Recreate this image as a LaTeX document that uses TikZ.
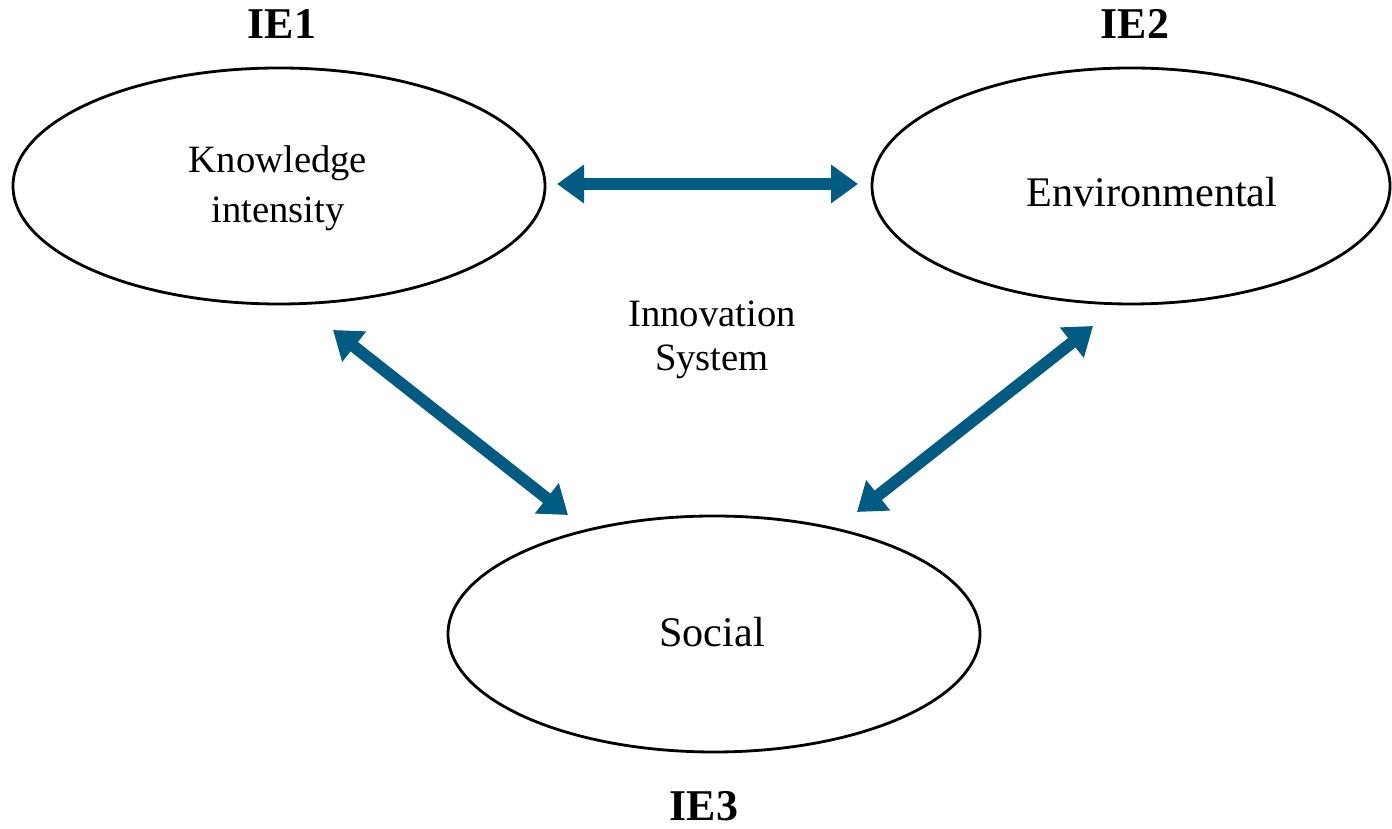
\documentclass[tikz,border=0pt]{standalone}
\usepackage{fontspec}
\setmainfont{Liberation Serif}
\usetikzlibrary{shapes.geometric,arrows.meta}
\definecolor{linkblue}{RGB}{0,91,130}
\tikzset{
  sphere/.style={draw, ellipse, line width=0.8pt, inner sep=0pt, minimum width=5.32cm, minimum height=2.36cm},
  link/.style={linkblue, line width=3.4pt, {Triangle[width=0.37cm,length=0.27cm]}-{Triangle[width=0.37cm,length=0.27cm]}},
  ielabel/.style={font=\fontsize{12.5}{14}\selectfont\bfseries},
  txt/.style={align=center, font=\fontsize{12}{14.2}\selectfont}
}
\begin{document}
\begin{tikzpicture}
\useasboundingbox (0,0) rectangle (13.92,8.29);
\node[sphere] (know) at (2.79, 6.43) {};
\node[sphere, minimum width=5.18cm] (env) at (11.31, 6.43) {};
\node[sphere] (soc) at (7.14, 1.95) {};

\node[txt, font=\fontsize{11}{14.2}\selectfont] (knowtxt) at (2.78, 6.41) {Knowledge\\intensity};
\node[txt] (envtxt) at (11.52, 6.37) {Environmental};
\node[txt] (soctxt) at (7.12, 1.97) {Social};
\node[txt, font=\fontsize{11}{12.5}\selectfont] (inno) at (7.12, 4.89) {Innovation\\System};

\node[ielabel] (ie1) at (2.82, 8.05) {IE1};
\node[ielabel] (ie2) at (11.35, 8.05) {IE2};
\node[ielabel] (ie3) at (7.04, 0.23) {IE3};

\coordinate (know-e) at (5.57, 6.45);
\coordinate (env-w) at (8.58, 6.45);
\coordinate (know-s) at (3.33, 4.99);
\coordinate (soc-nw) at (5.68, 3.14);
\coordinate (env-s) at (10.93, 5.03);
\coordinate (soc-ne) at (8.57, 3.17);

\draw[link] (know-e) -- (env-w);
\draw[link] (know-s) -- (soc-nw);
\draw[link] (env-s) -- (soc-ne);
\end{tikzpicture}
\end{document}
